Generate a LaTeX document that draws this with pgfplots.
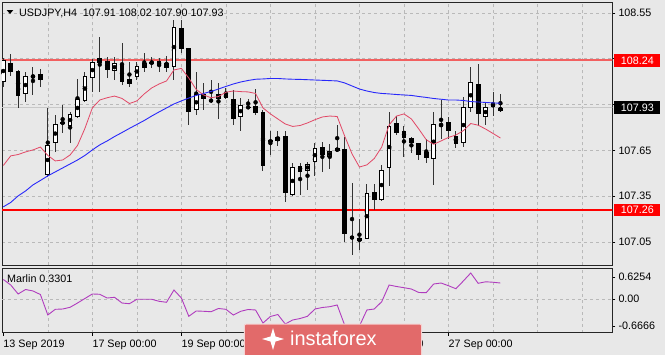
\documentclass[border=0pt]{standalone}
\usepackage{fontspec}
\setmainfont{Liberation Sans}
\usepackage{pgfplots}
\pgfplotsset{compat=1.18}
\usepackage{pgfplotstable}

\definecolor{bg}{RGB}{232,232,232}
\definecolor{gridc}{RGB}{185,185,185}
\definecolor{maRed}{RGB}{226,72,102}
\definecolor{maBlue}{RGB}{40,40,250}
\definecolor{lvlRed}{RGB}{242,96,96}
\definecolor{lvlRedB}{RGB}{255,0,0}
\definecolor{marlin}{RGB}{176,60,190}
\definecolor{wm}{RGB}{226,106,106}
\definecolor{pline}{RGB}{200,200,200}
\newcommand{\lbl}{\fontsize{10.8}{12}\selectfont}

\pgfplotstableread{
i o h l c
0 108.098 108.255 108.065 108.242
1 108.225 108.282 108.139 108.162
2 108.172 108.180 107.926 108.006
3 108.018 108.162 107.965 108.139
4 108.129 108.198 108.013 108.142
5 108.149 108.183 108.067 108.111
6 107.489 107.926 107.478 107.686
7 107.697 107.882 107.638 107.825
8 107.838 107.948 107.762 107.823
9 107.812 107.904 107.697 107.889
10 107.871 108.118 107.865 107.987
11 107.974 108.166 107.970 108.139
12 108.126 108.249 108.035 108.227
13 108.221 108.391 108.035 108.253
14 108.238 108.264 108.126 108.177
15 108.172 108.264 108.111 108.221
16 108.209 108.352 108.078 108.100
17 108.083 108.227 108.067 108.116
18 108.129 108.227 108.111 108.205
19 108.194 108.286 108.166 108.221
20 108.227 108.264 108.188 108.222
21 108.238 108.253 108.166 108.205
22 108.221 108.270 108.166 108.188
23 108.194 108.504 108.111 108.460
24 108.450 108.504 108.286 108.312
25 108.319 108.320 107.817 107.904
26 107.915 108.162 107.882 108.018
27 108.024 108.090 107.915 107.991
28 107.980 108.111 107.959 107.974
29 107.991 108.090 107.854 108.024
30 108.020 108.057 107.990 107.995
31 107.987 108.046 107.817 107.856
32 107.867 107.991 107.779 107.948
33 107.936 107.991 107.926 107.930
34 107.943 108.050 107.882 107.893
35 107.904 107.915 107.515 107.548
36 107.718 107.779 107.620 107.703
37 107.714 107.779 107.679 107.736
38 107.745 107.777 107.314 107.369
39 107.358 107.566 107.355 107.543
40 107.550 107.566 107.358 107.511
41 107.517 107.576 107.395 107.561
42 107.572 107.701 107.485 107.668
43 107.671 107.707 107.511 107.620
44 107.609 107.690 107.528 107.646
45 107.648 107.817 107.646 107.664
46 107.657 107.740 107.052 107.101
47 107.090 107.439 106.965 107.068
48 107.057 107.199 106.998 107.075
49 107.070 107.430 107.068 107.369
50 107.380 107.430 107.260 107.325
51 107.325 107.555 107.320 107.522
52 107.533 107.904 107.417 107.812
53 107.828 107.877 107.751 107.762
54 107.777 107.810 107.609 107.729
55 107.729 107.736 107.631 107.701
56 107.697 107.700 107.587 107.620
57 107.638 107.723 107.566 107.602
58 107.592 107.904 107.424 107.823
59 107.810 107.980 107.723 107.823
60 107.838 107.867 107.723 107.777
61 107.745 107.779 107.664 107.692
62 107.701 108.002 107.671 107.932
63 107.926 108.194 107.904 108.096
64 108.085 108.216 107.810 107.887
65 107.871 107.965 107.817 107.932
66 107.959 108.031 107.877 107.932
67 107.910 108.020 107.900 107.930
}\candles

\pgfplotstableread{
i ma bl mr
0 107.551 107.280 0.402
1 107.614 107.309 0.290
2 107.623 107.352 0.107
3 107.640 107.384 0.198
4 107.653 107.424 0.168
5 107.672 107.453 0.096
6 107.617 107.483 -0.321
7 107.581 107.509 -0.205
8 107.587 107.535 -0.199
9 107.620 107.561 -0.164
10 107.682 107.587 -0.077
11 107.794 107.617 0.015
12 107.928 107.653 0.107
13 107.980 107.686 0.101
14 107.995 107.712 0.025
15 108.006 107.741 0.039
16 107.990 107.767 -0.077
17 107.957 107.794 -0.091
18 107.974 107.820 -0.001
19 108.020 107.846 -0.001
20 108.059 107.875 -0.001
21 108.085 107.902 -0.042
22 108.105 107.928 -0.062
23 108.177 107.954 0.188
24 108.187 107.974 0.025
25 108.124 107.993 -0.347
26 108.049 108.010 -0.239
27 108.013 108.023 -0.245
28 107.995 108.036 -0.254
29 108.003 108.052 -0.188
30 108.031 108.069 -0.205
31 108.039 108.085 -0.321
32 108.035 108.098 -0.245
33 108.033 108.108 -0.209
34 108.023 108.116 -0.219
35 107.928 108.118 -0.484
36 107.889 108.121 -0.351
37 107.856 108.121 -0.311
38 107.823 108.118 -0.504
39 107.807 108.116 -0.422
40 107.813 108.115 -0.392
41 107.830 108.113 -0.347
42 107.851 108.111 -0.199
43 107.869 108.109 -0.168
44 107.875 108.107 -0.152
45 107.872 108.105 -0.117
46 107.745 108.092 -0.524
47 107.627 108.072 -0.667
48 107.541 108.052 -0.545
49 107.555 108.039 -0.219
50 107.597 108.029 -0.199
51 107.672 108.023 -0.050
52 107.817 108.020 0.290
53 107.875 108.016 0.259
54 107.889 108.013 0.235
55 107.856 108.010 0.208
56 107.790 108.003 0.137
57 107.720 107.997 0.133
58 107.690 107.990 0.310
59 107.712 107.985 0.330
60 107.735 107.980 0.275
61 107.751 107.980 0.214
62 107.779 107.977 0.371
63 107.826 107.970 0.534
64 107.815 107.967 0.324
65 107.790 107.964 0.355
66 107.761 107.961 0.346
67 107.731 107.959 0.330
}\ind

\begin{document}
\begin{tikzpicture}
\fill[bg] (0,0) rectangle (665bp,-355bp);

\begin{axis}[
  at={(2.2bp,-2bp)}, anchor=north west,
  scale only axis, width=610.1bp, height=263.5bp,
  xmin=-0.148, xmax=82.08, ymin=106.896, ymax=108.622,
  axis line style={black!85, line width=0.9bp},
  clip mode=individual,
  xtick={6,12,...,78}, xticklabels={}, xtick style={draw=none},
  xmajorgrids,
  ytick={107.05,107.35,107.65,107.95,108.25,108.55},
  yticklabels={107.05,107.35,107.65,,,108.55},
  ymajorgrids,
  grid style={gridc, dash pattern=on 3bp off 3bp, line width=0.6bp},
  ytick pos=right, yticklabel pos=right,
  tick align=outside, major tick length=3bp,
  ytick style={black, line width=0.8bp},
  yticklabel style={font=\lbl, inner sep=0pt, xshift=3bp},
]
\addplot[pline, line width=0.8bp, forget plot] coordinates {(-1,107.93) (83,107.93)};
\addplot[lvlRed, line width=1.8bp, forget plot] coordinates {(-1,108.24) (83,108.24)};
\addplot[draw=lvlRedB, line width=1.2bp, forget plot] coordinates {(-1,107.26) (83,107.26)};

% wicks
\addplot[forget plot, only marks, mark=none,
  error bars/.cd, y dir=both, y explicit, error mark=none,
  error bar style={line width=1bp, black!80}]
  table[x=i, y expr={(\thisrow{h}+\thisrow{l})/2}, y error expr={(\thisrow{h}-\thisrow{l})/2}] {\candles};
% bodies
\addplot[forget plot, only marks, mark=none,
  error bars/.cd, y dir=both, y explicit, error mark=none,
  error bar style={line width=4.7bp, black}]
  table[x=i, y expr={(\thisrow{o}+\thisrow{c})/2}, y error expr={max(abs(\thisrow{c}-\thisrow{o})/2,0.0035)}] {\candles};
% white interiors
\addplot[forget plot, only marks, mark=none,
  error bars/.cd, y dir=both, y explicit, error mark=none,
  error bar style={line width=2.7bp, white}]
  table[x=i, y expr={ifthenelse(\thisrow{c}>\thisrow{o},(\thisrow{o}+\thisrow{c})/2,200)},
        y error expr={max((\thisrow{c}-\thisrow{o})/2-0.0066,0)}] {\candles};

\addplot[maBlue, line width=0.9bp, no marks] table[x=i, y=bl] {\ind};
\addplot[maRed, line width=0.8bp, no marks] table[x=i, y=ma] {\ind};

\node[fill=lvlRedB, text=white, anchor=west, minimum width=46bp, minimum height=12.6bp, inner sep=0pt, font=\lbl, xshift=1.8bp] at (axis cs:82.08,108.24) {108.24};
\node[fill=black, text=white, anchor=west, minimum width=46bp, minimum height=12.6bp, inner sep=0pt, font=\lbl, xshift=1.8bp] at (axis cs:82.08,107.93) {107.93};
\node[fill=lvlRedB, text=white, anchor=west, minimum width=46bp, minimum height=12.6bp, inner sep=0pt, font=\lbl, xshift=1.8bp] at (axis cs:82.08,107.26) {107.26};
\end{axis}

\begin{axis}[
  at={(2.2bp,-268.5bp)}, anchor=north west,
  scale only axis, width=610.1bp, height=64.2bp,
  xmin=-0.148, xmax=82.08, ymin=-0.681, ymax=0.6254,
  axis line style={black!85, line width=0.9bp},
  xtick={0,12,...,60},
  xticklabels={13 Sep 2019,17 Sep 00:00,19 Sep 00:00,23 Sep 00:00,25 Sep 00:00,27 Sep 00:00},
  minor xtick={6,12,...,78},
  xminorgrids, minor tick length=0pt,
  xtick pos=bottom, xticklabel pos=bottom,
  xticklabel style={anchor=north west, inner sep=0pt, font=\lbl, yshift=-4bp},
  ytick={-0.5445,0,0.4525}, yticklabels={-0.6666,0.00,0.6254},
  extra y ticks={0}, extra y tick labels={},
  extra y tick style={ymajorgrids=true, major tick length=0pt},
  grid style={gridc, dash pattern=on 3bp off 3bp, line width=0.6bp},
  ytick pos=right, yticklabel pos=right,
  tick align=outside, major tick length=3bp,
  tick style={black, line width=0.8bp},
  yticklabel style={font=\lbl, inner sep=0pt, xshift=3bp},
]
\addplot[marlin, line width=0.9bp, no marks] table[x=i, y=mr] {\ind};
\end{axis}

% header texts
\fill[black] (6.7bp,-10bp) -- (13.3bp,-10bp) -- (10bp,-14bp) -- cycle;
\node[anchor=base west, inner sep=0pt, font=\lbl] at (19bp,-16bp) {USDJPY,H4\hspace{6bp}107.91 108.02 107.90 107.93};
\node[anchor=base west, inner sep=0pt, font=\lbl] at (7bp,-282.3bp) {Marlin 0.3301};

% watermark
\fill[wm, draw=white!70!wm, line width=1bp, rounded corners=2bp] (244.3bp,-324bp) rectangle (421.7bp,-358bp);
\fill[white] (273bp,-328bp) -- (275.5bp,-336.5bp) -- (284bp,-339bp) -- (275.5bp,-341.5bp) -- (273bp,-350bp) -- (270.5bp,-341.5bp) -- (262bp,-339bp) -- (270.5bp,-336.5bp) -- cycle;
\node[anchor=base west, inner sep=0pt, text=white, font=\fontsize{20}{22}\selectfont] at (290bp,-345.5bp) {instaforex};

\pgfresetboundingbox
\path[use as bounding box] (0,0) rectangle (665bp,-355bp);
\end{tikzpicture}
\end{document}
